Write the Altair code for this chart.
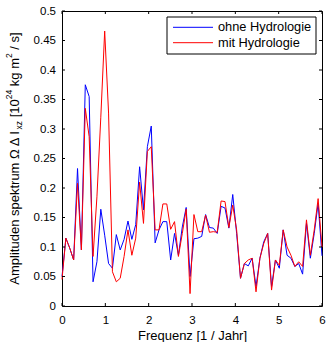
import altair as alt
import pandas as pd

# ---------------- data ----------------
n_points = 68
freq = [round(i * 6 / 67, 5) for i in range(n_points)]

ohne = [0.050, 0.115, 0.098, 0.078, 0.233, 0.095, 0.375, 0.355, 0.041, 0.075,
        0.164, 0.120, 0.072, 0.064, 0.121, 0.095, 0.113, 0.144, 0.113, 0.138,
        0.236, 0.163, 0.270, 0.305, 0.107, 0.129, 0.143, 0.143, 0.078, 0.123,
        0.086, 0.134, 0.167, 0.050, 0.114, 0.115, 0.118, 0.155, 0.133, 0.132,
        0.123, 0.169, 0.166, 0.132, 0.189, 0.123, 0.047, 0.072, 0.068, 0.081,
        0.033, 0.081, 0.109, 0.123, 0.033, 0.078, 0.064, 0.129, 0.086, 0.081,
        0.067, 0.072, 0.054, 0.140, 0.081, 0.123, 0.174, 0.085]

mit = [0.045, 0.115, 0.098, 0.078, 0.208, 0.095, 0.335, 0.287, 0.084, 0.185,
       0.320, 0.466, 0.327, 0.058, 0.041, 0.047, 0.084, 0.129, 0.086, 0.115,
       0.210, 0.140, 0.262, 0.270, 0.129, 0.129, 0.173, 0.173, 0.130, 0.143,
       0.084, 0.123, 0.164, 0.021, 0.155, 0.126, 0.126, 0.154, 0.125, 0.126,
       0.125, 0.178, 0.177, 0.133, 0.171, 0.129, 0.047, 0.072, 0.078, 0.081,
       0.024, 0.081, 0.106, 0.123, 0.027, 0.078, 0.069, 0.129, 0.100, 0.086,
       0.067, 0.075, 0.067, 0.146, 0.086, 0.129, 0.182, 0.100]

series_names = ["ohne Hydrologie", "mit Hydrologie"]
series_colors = ["#0000ff", "#ff0000"]
x_ticks = [0, 1, 2, 3, 4, 5, 6]
y_ticks = [0, 0.05, 0.1, 0.15, 0.2, 0.25, 0.3, 0.35, 0.4, 0.45, 0.5]
x_title = "Frequenz [1 / Jahr]"
y_title_parts = [("Amplituden spektrum Ω Δ I", "n"), ("xz", "sub"), (" [10", "n"),
                 ("24", "sup"), (" kg m", "n"), ("2", "sup"), (" / s]", "n")]

df = pd.DataFrame({
    "freq": freq + freq,
    "amp": ohne + mit,
    "series": [series_names[0]] * n_points + [series_names[1]] * n_points,
})

# ---------------- style ----------------
FONT = "Liberation Sans"
W, H = 260, 295
TL = 3
FS_TICK = 11.5
FS_TITLE = 13
FS_SMALL = 8.5

xs = alt.Scale(domain=[0, 6], nice=False, zero=False)
ys = alt.Scale(domain=[0, 0.5], nice=False)
cs = alt.Scale(domain=series_names, range=series_colors)

xaxis = alt.Axis(values=x_ticks, format="d", title=x_title, ticks=False, domain=False,
                 grid=False, labelFont=FONT, labelFontSize=FS_TICK, labelColor="black",
                 labelPadding=8, labelFlush=False, labelOverlap=False,
                 titleFont=FONT, titleFontSize=FS_TITLE, titleFontWeight="normal",
                 titleColor="black", titleY=33.5, titleBaseline="alphabetic")
yaxis = alt.Axis(values=y_ticks, format=".2~f", title=None, ticks=False, domain=False,
                 grid=False, labelFont=FONT, labelFontSize=FS_TICK, labelColor="black",
                 labelPadding=6.5, labelFlush=False, labelOverlap=False)

layers = []
for name in series_names:
    layers.append(
        alt.Chart(df).transform_filter(alt.datum.series == name)
        .mark_line(strokeWidth=1)
        .encode(x=alt.X("freq:Q", scale=xs, axis=xaxis),
                y=alt.Y("amp:Q", scale=ys, axis=yaxis),
                color=alt.Color("series:N", scale=cs, legend=None))
    )

# inward ticks on all four sides
tx = pd.DataFrame({"t": x_ticks})
ty = pd.DataFrame({"t": y_ticks})
layers.append(alt.Chart(tx).mark_rule(color="black", strokeWidth=1).encode(
    x=alt.X("t:Q", scale=xs, axis=xaxis), y=alt.value(H), y2=alt.value(H - TL)))
layers.append(alt.Chart(tx).mark_rule(color="black", strokeWidth=1).encode(
    x=alt.X("t:Q", scale=xs, axis=xaxis), y=alt.value(0), y2=alt.value(TL)))
layers.append(alt.Chart(ty).mark_rule(color="black", strokeWidth=1).encode(
    y=alt.Y("t:Q", scale=ys, axis=yaxis), x=alt.value(0), x2=alt.value(TL)))
layers.append(alt.Chart(ty).mark_rule(color="black", strokeWidth=1).encode(
    y=alt.Y("t:Q", scale=ys, axis=yaxis), x=alt.value(W), x2=alt.value(W - TL)))

# y title assembled from pieces (sub/superscripts)
adv = {"A": 667, "m": 833, "p": 556, "l": 222, "i": 222, "t": 278, "u": 556, "d": 556,
       "e": 556, "n": 556, " ": 278, "s": 500, "k": 500, "r": 333, "Ω": 768, "Δ": 668,
       "I": 278, "x": 500, "z": 500, "[": 278, "]": 278, "1": 556, "0": 556, "2": 556,
       "4": 556, "g": 556, "/": 278}
sizes = {"n": FS_TITLE, "sub": FS_SMALL, "sup": FS_SMALL}
xpos = {"n": -43, "sub": -40, "sup": -50}
widths = [sum(adv.get(c, 556) for c in txt) / 1000 * sizes[k] for txt, k in y_title_parts]
ycur = H / 2 + sum(widths) / 2
for (txt, kind), w in zip(y_title_parts, widths):
    lead = len(txt) - len(txt.lstrip(" "))
    shift = lead * adv[" "] / 1000 * sizes[kind]
    layers.append(
        alt.Chart(pd.DataFrame({"t": [txt.strip(" ")]}))
        .mark_text(angle=270, align="left", baseline="alphabetic", font=FONT,
                   fontSize=sizes[kind], color="black")
        .encode(text="t:N", x=alt.value(xpos[kind]), y=alt.value(ycur - shift))
    )
    ycur -= w

# legend
layers.append(
    alt.Chart(pd.DataFrame({"a": [0]})).mark_rect(fill="white", stroke="black", strokeWidth=1)
    .encode(x=alt.value(105), x2=alt.value(254), y=alt.value(6), y2=alt.value(43))
)
for k, name in enumerate(series_names):
    row_y = 16.3 + 15.4 * k
    ld = pd.DataFrame({"series": [name]})
    layers.append(
        alt.Chart(ld).mark_rule(strokeWidth=1)
        .encode(x=alt.value(111), x2=alt.value(151), y=alt.value(row_y),
                color=alt.Color("series:N", scale=cs, legend=None))
    )
    layers.append(
        alt.Chart(ld).mark_text(align="left", baseline="middle", font=FONT, fontSize=12.8,
                                color="black")
        .encode(x=alt.value(156), y=alt.value(row_y), text="series:N")
    )

chart = (
    alt.layer(*layers)
    .properties(width=W, height=H, autosize=alt.AutoSizeParams(type="none"),
                padding={"left": 62, "top": 11, "right": 4, "bottom": 36},
                background="white")
    .configure_view(stroke="black", strokeWidth=1)
)

chart.save("out.html", embed_options={"renderer": "svg", "actions": False})
